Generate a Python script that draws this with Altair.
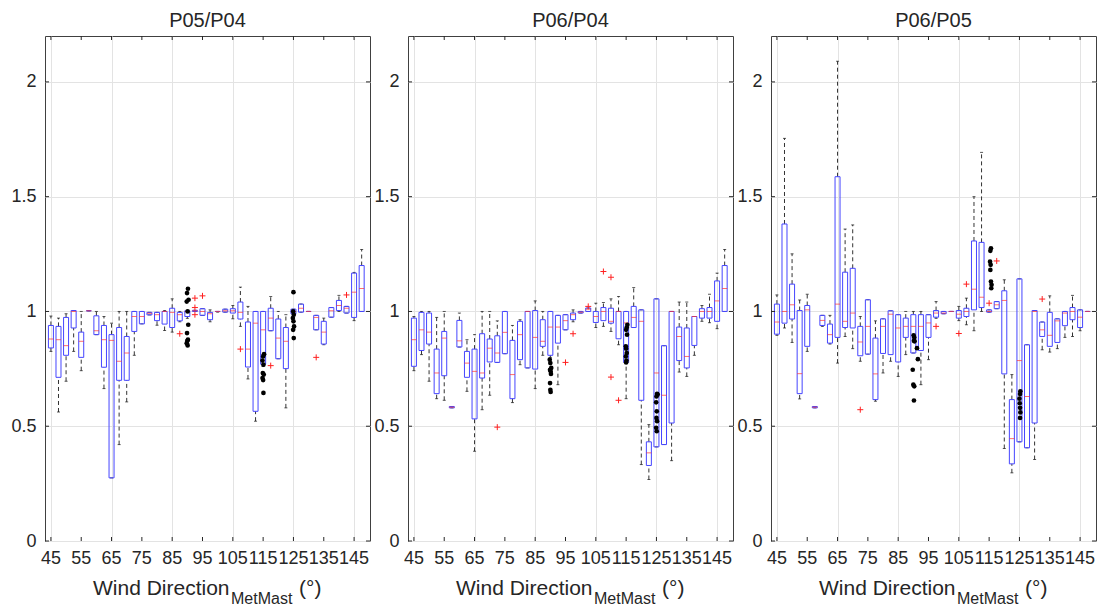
import altair as alt
import pandas as pd

directions = [45, 47.5, 50, 52.5, 55, 57.5, 60, 62.5, 65, 67.5, 70, 72.5, 75, 77.5,
              80, 82.5, 85, 87.5, 90, 92.5, 95, 97.5, 100, 102.5, 105, 107.5, 110,
              112.5, 115, 117.5, 120, 122.5, 125, 127.5, 130, 132.5, 135, 137.5, 140,
              142.5, 145, 147.5]

x_ticks = [45, 55, 65, 75, 85, 95, 105, 115, 125, 135, 145]
x_tick_labels = ["45", "55", "65", "75", "85", "95", "105", "115", "125", "135", "145"]
y_ticks = [0, 0.5, 1, 1.5, 2]
titles = ["P05/P04", "P06/P04", "P06/P05"]

# ---------------- P05/P04 ----------------
p1_q1 = [0.841, 0.713, 0.809, 0.928, 0.800, 1.003, 0.899, 0.757, 0.275, 0.700, 0.700, 0.913, 0.946, 0.985,
         0.960, 0.945, 0.930, 0.959, 0.978, 1.000, 0.983, 0.964, 1.000, 0.997, 0.993, 0.967, 0.758,
         0.565, 0.770, 0.916, 0.794, 0.751, 0.990, 0.997, 1.000, 0.920, 0.858, 0.975, 1.004,
         0.993, 0.974, 1.000]
p1_med = [0.880, 0.877, 0.851, 1.000, 0.870, 1.003, 0.916, 0.877, 0.874, 0.783, 0.819, 0.978, 0.978, 0.992,
          0.986, 1.000, 0.996, 0.986, 1.000, 1.003, 1.000, 0.990, 1.000, 1.003, 1.003, 0.996, 0.836,
          0.949, 0.920, 0.971, 0.884, 0.870, 1.000, 1.014, 1.000, 0.974, 0.910, 1.003, 1.026,
          1.014, 1.084, 1.100]
p1_q3 = [0.939, 0.935, 0.974, 1.004, 0.910, 1.003, 0.981, 0.939, 0.899, 0.930, 0.891, 1.000, 1.000, 0.996,
         0.996, 1.000, 1.014, 0.996, 1.003, 1.005, 1.012, 0.996, 1.000, 1.010, 1.012, 1.041, 0.954,
         1.000, 1.000, 1.014, 0.967, 0.930, 1.010, 1.032, 1.000, 0.983, 0.957, 1.017, 1.048,
         1.022, 1.167, 1.200]
p1_lo = [0.826, 0.562, 0.696, 0.826, 0.742, 1.003, 0.899, 0.664, 0.275, 0.420, 0.606, 0.809, 0.946, 0.985,
         0.940, 0.917, 0.910, 0.955, 0.970, 1.000, 0.983, 0.955, 0.997, 0.997, 0.968, 0.935, 0.706,
         0.522, 0.760, 0.916, 0.794, 0.580, 0.990, 0.997, 1.000, 0.920, 0.855, 0.975, 1.000,
         0.993, 0.960, 1.000]
p1_hi = [0.980, 0.971, 0.990, 1.004, 1.000, 1.003, 1.000, 0.978, 0.949, 1.000, 1.000, 1.000, 1.000, 0.996,
         0.996, 1.004, 1.055, 1.000, 1.003, 1.005, 1.012, 1.007, 1.000, 1.010, 1.026, 1.106, 1.022,
         1.000, 1.000, 1.065, 1.000, 0.986, 1.010, 1.032, 1.000, 0.983, 0.971, 1.017, 1.070,
         1.022, 1.170, 1.270]
p1_out_dir = [87.5, 92.5, 92.5, 92.5, 95, 107.5, 117.5, 132.5, 142.5]
p1_out_val = [0.903, 1.058, 1.017, 0.986, 1.068, 0.836, 0.764, 0.800, 1.072]
p1_dot_dir = [90.2, 89.9, 90.4, 89.8, 90.1, 90.3, 89.9, 90.2, 90.0, 89.8, 90.1,
              115.3, 115.0, 114.8, 115.1, 114.9, 115.2, 114.8, 115.0, 115.1,
              125.0, 124.9, 125.1, 124.8, 125.0, 125.2, 124.9, 125.1]
p1_dot_val = [1.099, 1.080, 1.051, 1.043, 1.000, 0.942, 0.906, 0.877, 0.872, 0.862, 0.852,
              0.814, 0.804, 0.786, 0.768, 0.732, 0.725, 0.710, 0.701, 0.645,
              1.084, 1.000, 0.986, 0.971, 0.957, 0.935, 0.920, 0.884]

# ---------------- P06/P04 ----------------
p2_q1 = [0.761, 0.830, 0.858, 0.642, 0.720, 0.580, 0.845, 0.713, 0.532, 0.710, 0.780, 0.778, 0.816, 0.620,
         0.790, 0.754, 0.749, 0.848, 0.809, 0.862, 0.920, 0.964, 0.993, 1.000, 0.952, 0.960, 0.949,
         0.881, 0.778, 0.930, 0.613, 0.329, 0.410, 0.420, 0.514, 0.786, 0.754, 0.852, 0.971,
         0.971, 0.957, 1.000]
p2_med = [0.877, 0.920, 0.910, 0.732, 0.884, 0.583, 0.872, 0.775, 0.739, 0.732, 0.840, 0.819, 0.909, 0.725,
          0.899, 1.000, 0.887, 0.870, 0.932, 0.932, 0.960, 0.986, 0.997, 1.010, 0.978, 1.000, 0.957,
          1.000, 0.950, 0.974, 0.957, 0.384, 0.732, 0.635, 1.000, 0.891, 0.804, 0.978, 1.000,
          1.000, 1.046, 1.100]
p2_q3 = [0.971, 0.996, 0.993, 0.836, 0.913, 0.586, 0.961, 0.826, 0.836, 0.903, 0.880, 0.894, 1.000, 0.874,
         0.957, 1.000, 1.004, 0.964, 1.000, 0.983, 0.986, 0.993, 1.000, 1.015, 1.000, 1.017, 1.014,
         1.000, 1.000, 1.022, 1.007, 0.432, 1.055, 0.851, 1.000, 0.932, 0.928, 0.978, 1.012,
         1.017, 1.133, 1.200]
p2_lo = [0.742, 0.812, 0.696, 0.620, 0.613, 0.580, 0.845, 0.652, 0.391, 0.572, 0.635, 0.778, 0.816, 0.603,
         0.768, 0.754, 0.664, 0.809, 0.800, 0.681, 0.920, 0.955, 0.993, 1.000, 0.930, 0.935, 0.913,
         0.855, 0.620, 0.930, 0.333, 0.268, 0.410, 0.420, 0.350, 0.736, 0.717, 0.809, 0.957,
         0.951, 0.925, 1.000]
p2_hi = [0.978, 1.000, 1.000, 0.974, 1.000, 0.586, 0.993, 0.877, 0.899, 1.000, 1.000, 0.959, 1.000, 0.939,
         0.964, 1.000, 1.046, 1.000, 1.000, 0.983, 0.986, 1.007, 1.000, 1.015, 1.036, 1.039, 1.055,
         1.065, 1.000, 1.104, 1.007, 0.507, 1.055, 0.851, 1.000, 1.041, 1.041, 0.978, 1.026,
         1.075, 1.167, 1.270]
p2_out_dir = [72.5, 95, 97.5, 102.5, 107.5, 110, 110, 112.5]
p2_out_val = [0.496, 0.778, 0.903, 1.022, 1.174, 1.149, 0.714, 0.613]
p2_dot_dir = [89.8, 90.0, 90.3, 89.9, 90.1, 90.2, 89.9, 90.0, 90.1,
              115.4, 115.2, 115.0, 115.3, 114.9, 115.0, 115.2, 114.9, 115.1, 115.0,
              125.2, 125.4, 125.0, 124.9, 125.1, 125.0, 125.2, 124.9, 125.1]
p2_dot_val = [0.790, 0.775, 0.754, 0.746, 0.739, 0.728, 0.688, 0.659, 0.649,
              0.942, 0.930, 0.920, 0.899, 0.848, 0.838, 0.819, 0.804, 0.786, 0.778,
              0.641, 0.638, 0.630, 0.604, 0.565, 0.536, 0.522, 0.493, 0.478]

# ---------------- P06/P05 ----------------
p3_q1 = [0.901, 0.949, 0.967, 0.642, 0.848, 0.580, 0.939, 0.862, 0.887, 0.930, 0.928, 0.807, 0.814, 0.616,
         0.817, 0.812, 0.780, 0.887, 0.819, 0.830, 0.887, 0.975, 0.990, 1.000, 0.971, 0.978, 1.007,
         1.017, 0.997, 1.012, 0.728, 0.336, 0.432, 0.406, 0.514, 0.891, 0.848, 0.865, 0.938,
         0.964, 0.930, 1.000]
p3_med = [0.954, 1.000, 1.029, 0.729, 1.007, 0.583, 0.961, 0.899, 1.032, 0.957, 0.993, 0.867, 0.935, 0.728,
          0.935, 0.988, 0.928, 0.935, 0.935, 0.935, 0.950, 0.993, 0.993, 1.000, 0.988, 1.000, 1.097,
          1.062, 1.000, 1.029, 1.048, 0.446, 0.786, 0.630, 1.000, 0.920, 0.896, 0.959, 0.993,
          1.000, 0.975, 1.000]
p3_q3 = [1.032, 1.381, 1.119, 1.004, 1.026, 0.586, 0.983, 0.945, 1.587, 1.171, 1.188, 0.935, 1.051, 0.884,
         0.968, 1.003, 0.986, 0.971, 0.986, 0.986, 0.986, 1.004, 1.000, 1.000, 1.004, 1.014, 1.307,
         1.301, 1.007, 1.043, 1.090, 0.616, 1.142, 0.855, 1.004, 0.954, 0.996, 0.968, 1.000,
         1.017, 1.007, 1.000]
p3_lo = [0.896, 0.928, 0.865, 0.619, 0.826, 0.580, 0.935, 0.858, 0.775, 0.891, 0.838, 0.783, 0.814, 0.609,
         0.732, 0.783, 0.717, 0.812, 0.819, 0.681, 0.790, 0.970, 0.990, 1.000, 0.960, 0.942, 0.916,
         1.000, 0.997, 1.012, 0.403, 0.297, 0.432, 0.406, 0.355, 0.833, 0.823, 0.838, 0.887,
         0.891, 0.916, 1.000]
p3_hi = [1.072, 1.754, 1.251, 1.050, 1.075, 0.586, 0.983, 0.983, 2.090, 1.359, 1.377, 0.978, 1.051, 0.959,
         0.968, 1.003, 0.986, 1.000, 1.000, 1.000, 0.986, 1.043, 1.000, 1.000, 1.022, 1.058, 1.500,
         1.693, 1.007, 1.043, 1.138, 0.725, 1.142, 0.855, 1.004, 0.954, 1.068, 0.968, 1.000,
         1.070, 1.007, 1.000]
p3_out_dir = [72.5, 97.5, 105, 107.5, 115, 117.5, 132.5]
p3_out_val = [0.572, 0.935, 0.904, 1.119, 1.036, 1.220, 1.054]
p3_dot_dir = [90.1, 90.3, 90.2, 90.4, 91.2, 91.5, 89.8, 90.0, 90.3, 90.2,
              115.6, 115.4, 115.3, 115.5, 115.4, 115.6, 115.8, 115.7,
              125.3, 125.2, 125.0, 125.1, 125.2, 125.3, 125.2]
p3_dot_val = [0.896, 0.887, 0.872, 0.870, 0.840, 0.792, 0.746, 0.681, 0.674, 0.612,
              1.275, 1.264, 1.217, 1.203, 1.181, 1.130, 1.116, 1.101,
              0.652, 0.640, 0.620, 0.600, 0.580, 0.560, 0.536]

W = 325
H = 505
FONT = "Liberation Sans"
TXT = "#262626"

xscale = alt.Scale(domain=[44.7, 148.6], nice=False, zero=False)
yscale = alt.Scale(domain=[0, 2.2], nice=False, zero=True)
xaxis = alt.Axis(values=x_ticks, title=None, grid=True, gridColor="#e3e3e3", ticks=False,
                 domain=False, labels=False)
yaxis = alt.Axis(values=y_ticks, title=None, grid=True, gridColor="#e3e3e3", ticks=False,
                 domain=False, labelFont=FONT, labelFontSize=18, labelColor=TXT,
                 labelPadding=9, format="~g", labelOverlap=False)


def panel(title, q1, med, q3, lo, hi, out_dir, out_val, dot_dir, dot_val):
    df = pd.DataFrame({"d": directions, "q1": q1, "med": med, "q3": q3, "lo": lo, "hi": hi})
    base = alt.Chart(df)
    X = alt.X("d:Q", scale=xscale, axis=xaxis)

    grid = base.mark_rule(opacity=0).encode(
        x=X, y=alt.Y("med:Q", scale=yscale, axis=yaxis))
    w_lo = base.mark_rule(color="#333333", strokeWidth=1, strokeDash=[4, 3]).encode(
        x="d:Q", y="lo:Q", y2="q1:Q")
    w_hi = base.mark_rule(color="#333333", strokeWidth=1, strokeDash=[4, 3]).encode(
        x="d:Q", y="q3:Q", y2="hi:Q")
    cap_lo = base.mark_tick(orient="horizontal", color="#111111", size=3, thickness=1).encode(
        x="d:Q", y="lo:Q")
    cap_hi = base.mark_tick(orient="horizontal", color="#111111", size=3, thickness=1).encode(
        x="d:Q", y="hi:Q")
    box = base.mark_bar(fillOpacity=0, stroke="#4545ff", strokeWidth=1, size=5).encode(
        x="d:Q", y="q1:Q", y2="q3:Q")
    median = base.mark_tick(orient="horizontal", color="#ff3030", size=5, thickness=1).encode(
        x="d:Q", y="med:Q")

    odf = pd.DataFrame({"d": out_dir, "v": out_val})
    outl = alt.Chart(odf).mark_point(shape="M-1,0L1,0M0,-1L0,1", size=36, stroke="#ff2020",
                                     strokeWidth=1, filled=False, opacity=1).encode(
        x="d:Q", y="v:Q")
    ddf = pd.DataFrame({"d": dot_dir, "v": dot_val})
    dots = alt.Chart(ddf).mark_circle(size=22, color="black", opacity=1).encode(
        x="d:Q", y="v:Q")

    xt = alt.Chart(pd.DataFrame({"v": x_ticks, "lab": x_tick_labels}))
    yt = alt.Chart(pd.DataFrame({"v": y_ticks}))
    tick_b = xt.mark_rule(color=TXT).encode(x="v:Q", y=alt.value(H), y2=alt.value(H - 4))
    tick_t = xt.mark_rule(color=TXT).encode(x="v:Q", y=alt.value(0), y2=alt.value(4))
    tick_l = yt.mark_rule(color=TXT).encode(y="v:Q", x=alt.value(0), x2=alt.value(4))
    tick_r = yt.mark_rule(color=TXT).encode(y="v:Q", x=alt.value(W - 4), x2=alt.value(W))
    xlab = xt.mark_text(font=FONT, fontSize=18, color=TXT, align="center",
                        baseline="alphabetic").encode(
        x="v:Q", y=alt.value(H + 23), text="lab:N")

    tdf = alt.Chart(pd.DataFrame({"t": [title]}))
    ttl = tdf.mark_text(font=FONT, fontSize=20, color=TXT, align="center",
                        baseline="alphabetic").encode(
        x=alt.value(W / 2), y=alt.value(-9), text="t:N")
    lab = alt.Chart(pd.DataFrame({"t": ["Wind Direction"]})).mark_text(
        font=FONT, fontSize=21, color=TXT, align="left", baseline="alphabetic").encode(
        x=alt.value(48), y=alt.value(H + 54), text="t:N")
    sub = alt.Chart(pd.DataFrame({"t": ["MetMast"]})).mark_text(
        font=FONT, fontSize=16, color=TXT, align="left", baseline="alphabetic").encode(
        x=alt.value(186), y=alt.value(H + 63), text="t:N")
    unit = alt.Chart(pd.DataFrame({"t": ["(°)"]})).mark_text(
        font=FONT, fontSize=21, color=TXT, align="left", baseline="alphabetic").encode(
        x=alt.value(254), y=alt.value(H + 54), text="t:N")

    return alt.layer(grid, w_lo, w_hi, cap_lo, cap_hi, box, median, outl, dots,
                     tick_b, tick_t, tick_l, tick_r, xlab, ttl, lab, sub, unit).properties(
        width=W, height=H)


c1 = panel(titles[0], p1_q1, p1_med, p1_q3, p1_lo, p1_hi, p1_out_dir, p1_out_val, p1_dot_dir, p1_dot_val)
c2 = panel(titles[1], p2_q1, p2_med, p2_q3, p2_lo, p2_hi, p2_out_dir, p2_out_val, p2_dot_dir, p2_dot_val)
c3 = panel(titles[2], p3_q1, p3_med, p3_q3, p3_lo, p3_hi, p3_out_dir, p3_out_val, p3_dot_dir, p3_dot_val)

chart = alt.hconcat(c1, c2, c3, spacing=38, bounds="flush").properties(
    padding={"left": 10, "top": 10, "right": 5, "bottom": 0},
    background="white",
).configure_view(stroke="#404040", strokeWidth=1)

chart.save("out.html", embed_options={"renderer": "svg", "actions": False})
